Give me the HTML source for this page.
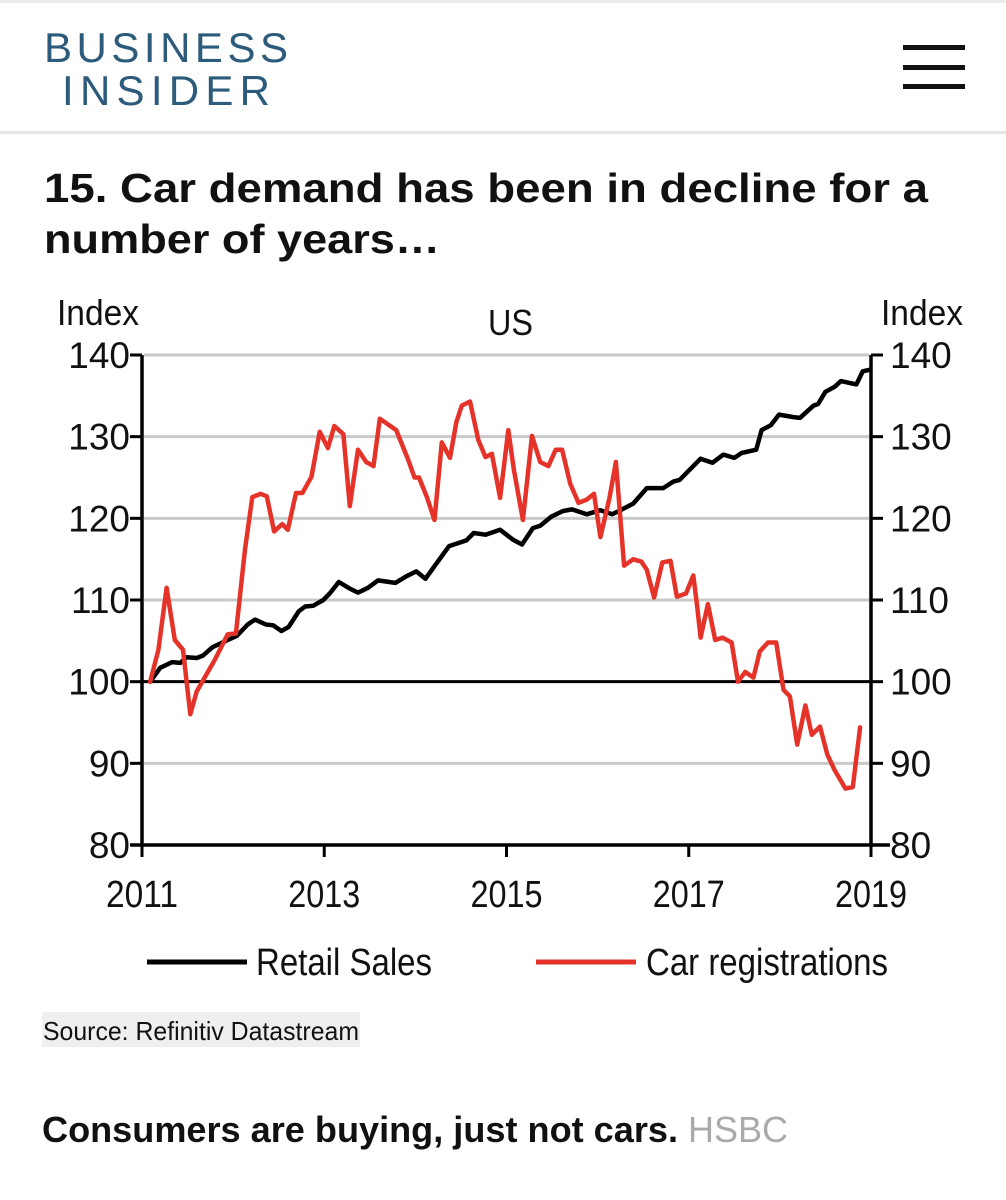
<!DOCTYPE html>
<html><head><meta charset="utf-8"><style>
html,body{margin:0;padding:0;background:#fff;}
svg{display:block;font-family:"Liberation Sans",Arial,sans-serif;}
</style></head><body>
<svg id="page" width="1006" height="1200" viewBox="0 0 1006 1200" xmlns="http://www.w3.org/2000/svg">
<rect x="0" y="0" width="1006" height="3" fill="#ececec"/>
<g fill="#2d5b7b" font-size="42">
<text x="44" y="62" textLength="244" lengthAdjust="spacing">BUSINESS</text>
<text x="62" y="105" textLength="208" lengthAdjust="spacing">INSIDER</text>
</g>
<g fill="#111">
<rect x="903" y="45" width="62" height="5"/><rect x="903" y="65" width="62" height="5"/><rect x="903" y="84" width="62" height="5"/>
</g>
<rect x="0" y="131" width="1006" height="3" fill="#e6e6e6"/>
<g font-weight="bold" font-size="41" fill="#111">
<text x="44" y="202" textLength="884" lengthAdjust="spacingAndGlyphs">15. Car demand has been in decline for a</text>
<text x="44" y="253" textLength="396" lengthAdjust="spacingAndGlyphs">number of years…</text>
</g>
<g id="chart"></g>
<rect x="42" y="1012" width="318" height="35" fill="#efefef"/>
<text x="43" y="1040" font-size="26" fill="#111" textLength="316" lengthAdjust="spacingAndGlyphs">Source: Refinitiv Datastream</text>
<text x="42" y="1142" font-size="36" font-weight="bold" fill="#111" textLength="636" lengthAdjust="spacingAndGlyphs">Consumers are buying, just not cars.</text>
<text x="688" y="1142" font-size="36" fill="#aaaaaa" textLength="100" lengthAdjust="spacingAndGlyphs">HSBC</text>
</svg>
<script>
const yTicks=[80,90,100,110,120,130,140];
const xTicks=[2011,2013,2015,2017,2019];
const retailYears=[2011.09,2011.20,2011.33,2011.42,2011.49,2011.60,2011.67,2011.77,2011.94,2012.04,2012.16,2012.24,2012.36,2012.44,2012.53,2012.61,2012.72,2012.79,2012.88,2012.99,2013.06,2013.16,2013.28,2013.37,2013.48,2013.59,2013.78,2013.90,2014.01,2014.11,2014.22,2014.37,2014.56,2014.64,2014.77,2014.93,2015.07,2015.17,2015.29,2015.37,2015.49,2015.62,2015.72,2015.88,2016.03,2016.16,2016.25,2016.39,2016.54,2016.72,2016.83,2016.90,2017.13,2017.26,2017.38,2017.50,2017.58,2017.74,2017.80,2017.90,2017.99,2018.15,2018.22,2018.37,2018.42,2018.50,2018.60,2018.67,2018.84,2018.91,2018.99];
const retailValues=[100,101.7,102.4,102.3,103,102.9,103.2,104.2,105.1,105.6,107,107.6,107,106.9,106.2,106.7,108.6,109.2,109.3,110,110.8,112.2,111.4,110.9,111.5,112.4,112.1,112.9,113.5,112.6,114.3,116.6,117.3,118.2,118,118.6,117.4,116.8,118.8,119.1,120.2,120.9,121.1,120.5,121,120.5,121,121.8,123.7,123.7,124.5,124.7,127.3,126.8,127.8,127.4,128,128.4,130.8,131.4,132.7,132.4,132.3,133.8,134,135.5,136.1,136.8,136.4,138,138.2];
const carYears=[2011.09,2011.18,2011.27,2011.36,2011.45,2011.53,2011.60,2011.80,2011.94,2012.03,2012.13,2012.21,2012.30,2012.37,2012.45,2012.54,2012.60,2012.69,2012.76,2012.86,2012.95,2013.04,2013.11,2013.21,2013.28,2013.37,2013.46,2013.54,2013.61,2013.79,2013.92,2013.99,2014.04,2014.13,2014.21,2014.29,2014.38,2014.45,2014.51,2014.60,2014.69,2014.77,2014.84,2014.93,2015.02,2015.08,2015.18,2015.28,2015.37,2015.46,2015.54,2015.61,2015.70,2015.79,2015.88,2015.96,2016.03,2016.13,2016.20,2016.29,2016.39,2016.48,2016.54,2016.62,2016.71,2016.80,2016.87,2016.97,2017.05,2017.09,2017.13,2017.21,2017.29,2017.37,2017.47,2017.54,2017.62,2017.71,2017.78,2017.87,2017.96,2018.04,2018.11,2018.19,2018.28,2018.35,2018.44,2018.52,2018.60,2018.72,2018.80,2018.88];
const carValues=[100,103.9,111.5,105.1,103.9,96,98.8,102.7,105.8,105.9,116.2,122.6,123,122.7,118.4,119.3,118.6,123.1,123.1,125.1,130.6,128.6,131.3,130.3,121.5,128.4,126.9,126.4,132.2,130.8,127.2,125,125,122.5,119.8,129.3,127.4,131.8,133.8,134.3,129.6,127.5,127.9,122.5,130.8,126,119.8,130.1,126.9,126.4,128.4,128.4,124.2,121.9,122.3,123,117.7,122.5,126.9,114.2,115,114.7,113.7,110.3,114.6,114.8,110.4,110.8,113,109.4,105.4,109.5,105.1,105.4,104.8,100,101.2,100.5,103.7,104.8,104.8,99,98.2,92.3,97.1,93.5,94.5,91.1,89.2,86.9,87.1,94.4];

const X0=142,X1=871,Y0=845,Y1=355;
const xs=t=>X0+(t-2011)/(2019-2011)*(X1-X0);
const ys=v=>Y0-(v-80)/(140-80)*(Y0-Y1);
const g=document.getElementById('chart');
const NS='http://www.w3.org/2000/svg';
function mk(tag,attrs){const e=document.createElementNS(NS,tag);for(const k in attrs)e.setAttribute(k,attrs[k]);g.appendChild(e);return e;}

yTicks.forEach(v=>{
  if(v!==80&&v!==100){
    const l=mk('line',{x1:X0+2,x2:X1-2,y1:ys(v),y2:ys(v),stroke:'#c9c9c9','stroke-width':3});
    
    
  }
  const tl=mk('line',{x1:X0-12,x2:X0,y1:ys(v),y2:ys(v),stroke:'#000','stroke-width':3});
  
  
  const tr=mk('line',{x1:X1,x2:X1+12,y1:ys(v),y2:ys(v),stroke:'#000','stroke-width':3});
  
  
  const a=mk('text',{x:130,y:ys(v)+13,'text-anchor':'end','font-size':37,fill:'#111'});
  a.textContent=v;
  
  
  const b=mk('text',{x:890,y:ys(v)+13,'font-size':37,fill:'#111'});
  b.textContent=v;
  
  
});
const base=mk('line',{x1:X0,x2:X1,y1:ys(100),y2:ys(100),stroke:'#000','stroke-width':3});


xTicks.forEach(t=>{
  const tk=mk('line',{x1:xs(t),x2:xs(t),y1:Y0,y2:Y0+12,stroke:'#000','stroke-width':3});
  
  
  const lb=mk('text',{x:xs(t)-36,y:907,'font-size':38,fill:'#111',textLength:72,lengthAdjust:'spacingAndGlyphs'});
  lb.textContent=t;
  
  
});
const la=mk('line',{x1:X0,x2:X0,y1:Y1,y2:Y0+2,stroke:'#000','stroke-width':3.5});


const ra=mk('line',{x1:X1,x2:X1,y1:Y1,y2:Y0+2,stroke:'#000','stroke-width':3.5});


const xa=mk('line',{x1:130,x2:890,y1:Y0,y2:Y0,stroke:'#000','stroke-width':3.5});



function series(yrs,vals,color,name){
  const d=yrs.map((t,i)=>(i?'L':'M')+xs(t).toFixed(1)+' '+ys(vals[i]).toFixed(1)).join(' ');
  const p=mk('path',{d:d,fill:'none',stroke:color,'stroke-width':4.5,'stroke-linejoin':'round','stroke-linecap':'round'});
  
  
}
series(retailYears,retailValues,'#000','retail-sales-line');
series(carYears,carValues,'#e5332a','car-registrations-line');

const t1=mk('text',{x:57,y:325,'font-size':36,fill:'#111',textLength:82,lengthAdjust:'spacingAndGlyphs'});t1.textContent='Index';


const t2=mk('text',{x:881,y:325,'font-size':36,fill:'#111',textLength:82,lengthAdjust:'spacingAndGlyphs'});t2.textContent='Index';


const t3=mk('text',{x:488,y:335,'font-size':36,fill:'#111',textLength:45,lengthAdjust:'spacingAndGlyphs'});t3.textContent='US';



const l1=mk('line',{x1:147,x2:247,y1:962,y2:962,stroke:'#000','stroke-width':5});


const lt1=mk('text',{x:256,y:975,'font-size':38,fill:'#111',textLength:176,lengthAdjust:'spacingAndGlyphs'});lt1.textContent='Retail Sales';


const l2=mk('line',{x1:536,x2:636,y1:962,y2:962,stroke:'#e5332a','stroke-width':5});


const lt2=mk('text',{x:646,y:975,'font-size':38,fill:'#111',textLength:242,lengthAdjust:'spacingAndGlyphs'});lt2.textContent='Car registrations';


</script>
</body></html>
